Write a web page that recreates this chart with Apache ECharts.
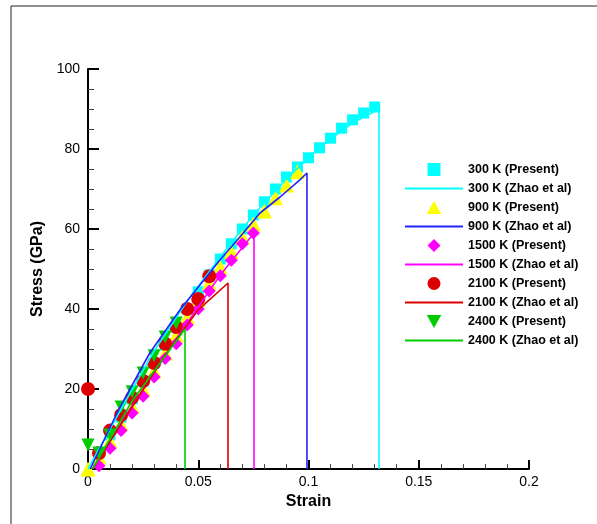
<!DOCTYPE html>
<html>
<head>
<meta charset="utf-8">
<script src="https://cdn.jsdelivr.net/npm/echarts@6/dist/echarts.min.js"></script>
<style>
  html, body { margin: 0; padding: 0; background: #fff; }
  #chart { width: 597px; height: 524px; }
</style>
</head>
<body>
<div id="chart"></div>
<script>
// present (MD) results: strain / stress pairs
const strain300 = [0.005, 0.01, 0.015, 0.02, 0.025, 0.03, 0.035, 0.04, 0.045, 0.05, 0.055, 0.06, 0.065, 0.07, 0.075, 0.08, 0.085, 0.09, 0.095, 0.1, 0.105, 0.11, 0.115, 0.12, 0.125, 0.13]
const stress300 = [4, 8.5, 13, 17.5, 22, 26.5, 31, 35.5, 40, 44.3, 48.5, 52.5, 56.3, 60, 63.5, 66.8, 70, 73, 75.5, 77.8, 80.3, 82.7, 85.2, 87.3, 89, 90.5]

const strain900 = [0, 0.005, 0.01, 0.015, 0.02, 0.025, 0.03, 0.035, 0.04, 0.045, 0.05, 0.055, 0.06, 0.065, 0.07, 0.075, 0.08, 0.085, 0.09, 0.095]
const stress900 = [0, 3, 7, 11.3, 15.7, 20, 24.5, 29, 33.5, 38, 42.3, 46.5, 50.5, 54.3, 58, 61.3, 64.5, 67.8, 71, 74.3]

const strain1500 = [0.005, 0.01, 0.015, 0.02, 0.025, 0.03, 0.035, 0.04, 0.045, 0.05, 0.055, 0.06, 0.065, 0.07, 0.075]
const stress1500 = [0.8, 5.2, 9.6, 14, 18.2, 23, 27.6, 31.3, 36, 40, 44.5, 48.3, 52.2, 56.3, 59]

const strain2100 = [0, 0.005, 0.01, 0.015, 0.02, 0.025, 0.03, 0.035, 0.04, 0.045, 0.05, 0.055]
const stress2100 = [20, 4, 9.6, 13.5, 17.8, 22, 26.5, 31.3, 35.5, 40, 42.5, 48.2]

const strain2400 = [0, 0.005, 0.01, 0.015, 0.02, 0.025, 0.03, 0.035, 0.04]
const stress2400 = [6, 4, 8.5, 15.5, 19.3, 24, 28.3, 33, 36.5]

// Zhao et al curves (with failure drop)
const zhaoStrain300 = [0, 0.015, 0.03, 0.045, 0.06, 0.075, 0.09, 0.1, 0.11, 0.12, 0.132, 0.132]
const zhaoStress300 = [0, 15, 29.5, 42, 53, 63.5, 72.5, 77.8, 82.5, 86.5, 90, 0]

const zhaoStrain900 = [0.001, 0.0136, 0.028, 0.042, 0.0544, 0.0599, 0.0689, 0.078, 0.0871, 0.0961, 0.0993, 0.0993]
const zhaoStress900 = [0, 14.5, 29, 40, 48.5, 52.3, 58, 64, 68, 72.3, 74, 0]

const zhaoStrain1500 = [0.002, 0.02, 0.04, 0.06, 0.0753, 0.0753]
const zhaoStress1500 = [0, 15.8, 32.5, 48.5, 59, 0]

const zhaoStrain2100 = [0.002, 0.02, 0.035, 0.05, 0.0635, 0.0635]
const zhaoStress2100 = [0, 15.5, 28.5, 39.8, 46.5, 0]

const zhaoStrain2400 = [0.002, 0.02, 0.044, 0.044]
const zhaoStress2400 = [0, 17, 35, 0]

const xTicks = [0, 0.05, 0.1, 0.15, 0.2]
const yTicks = [0, 20, 40, 60, 80, 100]

const pairs = (xs, ys) => xs.map((x, i) => [x, ys[i]])

const font = 'Arial, "Liberation Sans", sans-serif'
// path symbols keep their aspect in the legend
const square = 'path://M0,0 L10,0 L10,10 L0,10 Z'
const upTri = 'path://M5,0 L10,9 L0,9 Z'
const diamond = 'path://M5,0 L10,5 L5,10 L0,5 Z'
const downTri = 'path://M0,0 L10,0 L5,9 Z'

const scatter = (name, xs, ys, symbol, size, color) => ({
  name,
  type: 'scatter',
  data: pairs(xs, ys),
  symbol,
  symbolSize: size,
  itemStyle: { color, opacity: 1 }
})

const line = (name, xs, ys, color) => ({
  name,
  type: 'line',
  data: pairs(xs, ys),
  symbol: 'none',
  lineStyle: { width: 1.6, color },
  itemStyle: { color }
})

const series = [
  scatter('300 K (Present)', strain300, stress300, square, 11, '#00ffff'),
  line('300 K (Zhao et al)', zhaoStrain300, zhaoStress300, '#00ffff'),
  scatter('900 K (Present)', strain900, stress900, upTri, 15, '#ffff00'),
  line('900 K (Zhao et al)', zhaoStrain900, zhaoStress900, '#2222ff'),
  scatter('1500 K (Present)', strain1500, stress1500, diamond, 13, '#ff00ff'),
  line('1500 K (Zhao et al)', zhaoStrain1500, zhaoStress1500, '#ff00ff'),
  scatter('2100 K (Present)', strain2100, stress2100, 'circle', 14, '#dd0000'),
  line('2100 K (Zhao et al)', zhaoStrain2100, zhaoStress2100, '#dd0000'),
  scatter('2400 K (Present)', strain2400, stress2400, downTri, 13, '#00cc00'),
  line('2400 K (Zhao et al)', zhaoStrain2400, zhaoStress2400, '#00cc00')
]

// legend: marker only for scatter, plain line for the curves
const legendData = series.map((s) =>
  s.type === 'line'
    ? { name: s.name, itemStyle: { opacity: 0 } }
    : { name: s.name, icon: s.symbol }
)

const chart = echarts.init(document.getElementById('chart'))
chart.setOption({
  animation: false,
  backgroundColor: '#fff',
  grid: { left: 88, right: 68, top: 69, bottom: 55 },
  graphic: [
    { type: 'line', shape: { x1: 11, y1: 6, x2: 597, y2: 6 }, style: { stroke: '#222', lineWidth: 1 } },
    { type: 'line', shape: { x1: 11, y1: 6, x2: 11, y2: 524 }, style: { stroke: '#222', lineWidth: 1 } }
  ],
  legend: {
    orient: 'vertical',
    left: 399,
    top: 158,
    itemWidth: 58,
    itemHeight: 13,
    itemGap: 6,
    data: legendData,
    textStyle: { fontFamily: font, fontWeight: 'bold', fontSize: 12.5, color: '#000' }
  },
  xAxis: {
    type: 'value',
    min: 0,
    max: 0.2,
    interval: 0.05,
    name: 'Strain',
    nameLocation: 'middle',
    nameGap: 17,
    nameTextStyle: { fontFamily: font, fontWeight: 'bold', fontSize: 16, color: '#000' },
    axisLine: { onZero: false, lineStyle: { color: '#000', width: 2 } },
    axisTick: { inside: true, length: 9, lineStyle: { color: '#000', width: 2 } },
    minorTick: { show: true, splitNumber: 5, length: 5, lineStyle: { color: '#444', width: 1 } },
    splitLine: { show: false },
    axisLabel: {
      margin: 6,
      fontFamily: font,
      fontSize: 14,
      color: '#000',
      formatter: (v) => (xTicks.includes(+v.toFixed(3)) ? String(+v.toFixed(3)) : '')
    }
  },
  yAxis: {
    type: 'value',
    min: 0,
    max: 100,
    interval: 20,
    name: 'Stress (GPa)',
    nameLocation: 'middle',
    nameGap: 30,
    nameTextStyle: { fontFamily: font, fontWeight: 'bold', fontSize: 16, color: '#000' },
    axisLine: { onZero: false, lineStyle: { color: '#000', width: 2 } },
    axisTick: { inside: true, length: 11, lineStyle: { color: '#000', width: 2 } },
    minorTick: { show: true, splitNumber: 4, length: 6, lineStyle: { color: '#444', width: 1 } },
    splitLine: { show: false },
    axisLabel: {
      margin: 8,
      fontFamily: font,
      fontSize: 14,
      color: '#000',
      formatter: (v) => (yTicks.includes(v) ? String(v) : '')
    }
  },
  series
})
</script>
</body>
</html>
